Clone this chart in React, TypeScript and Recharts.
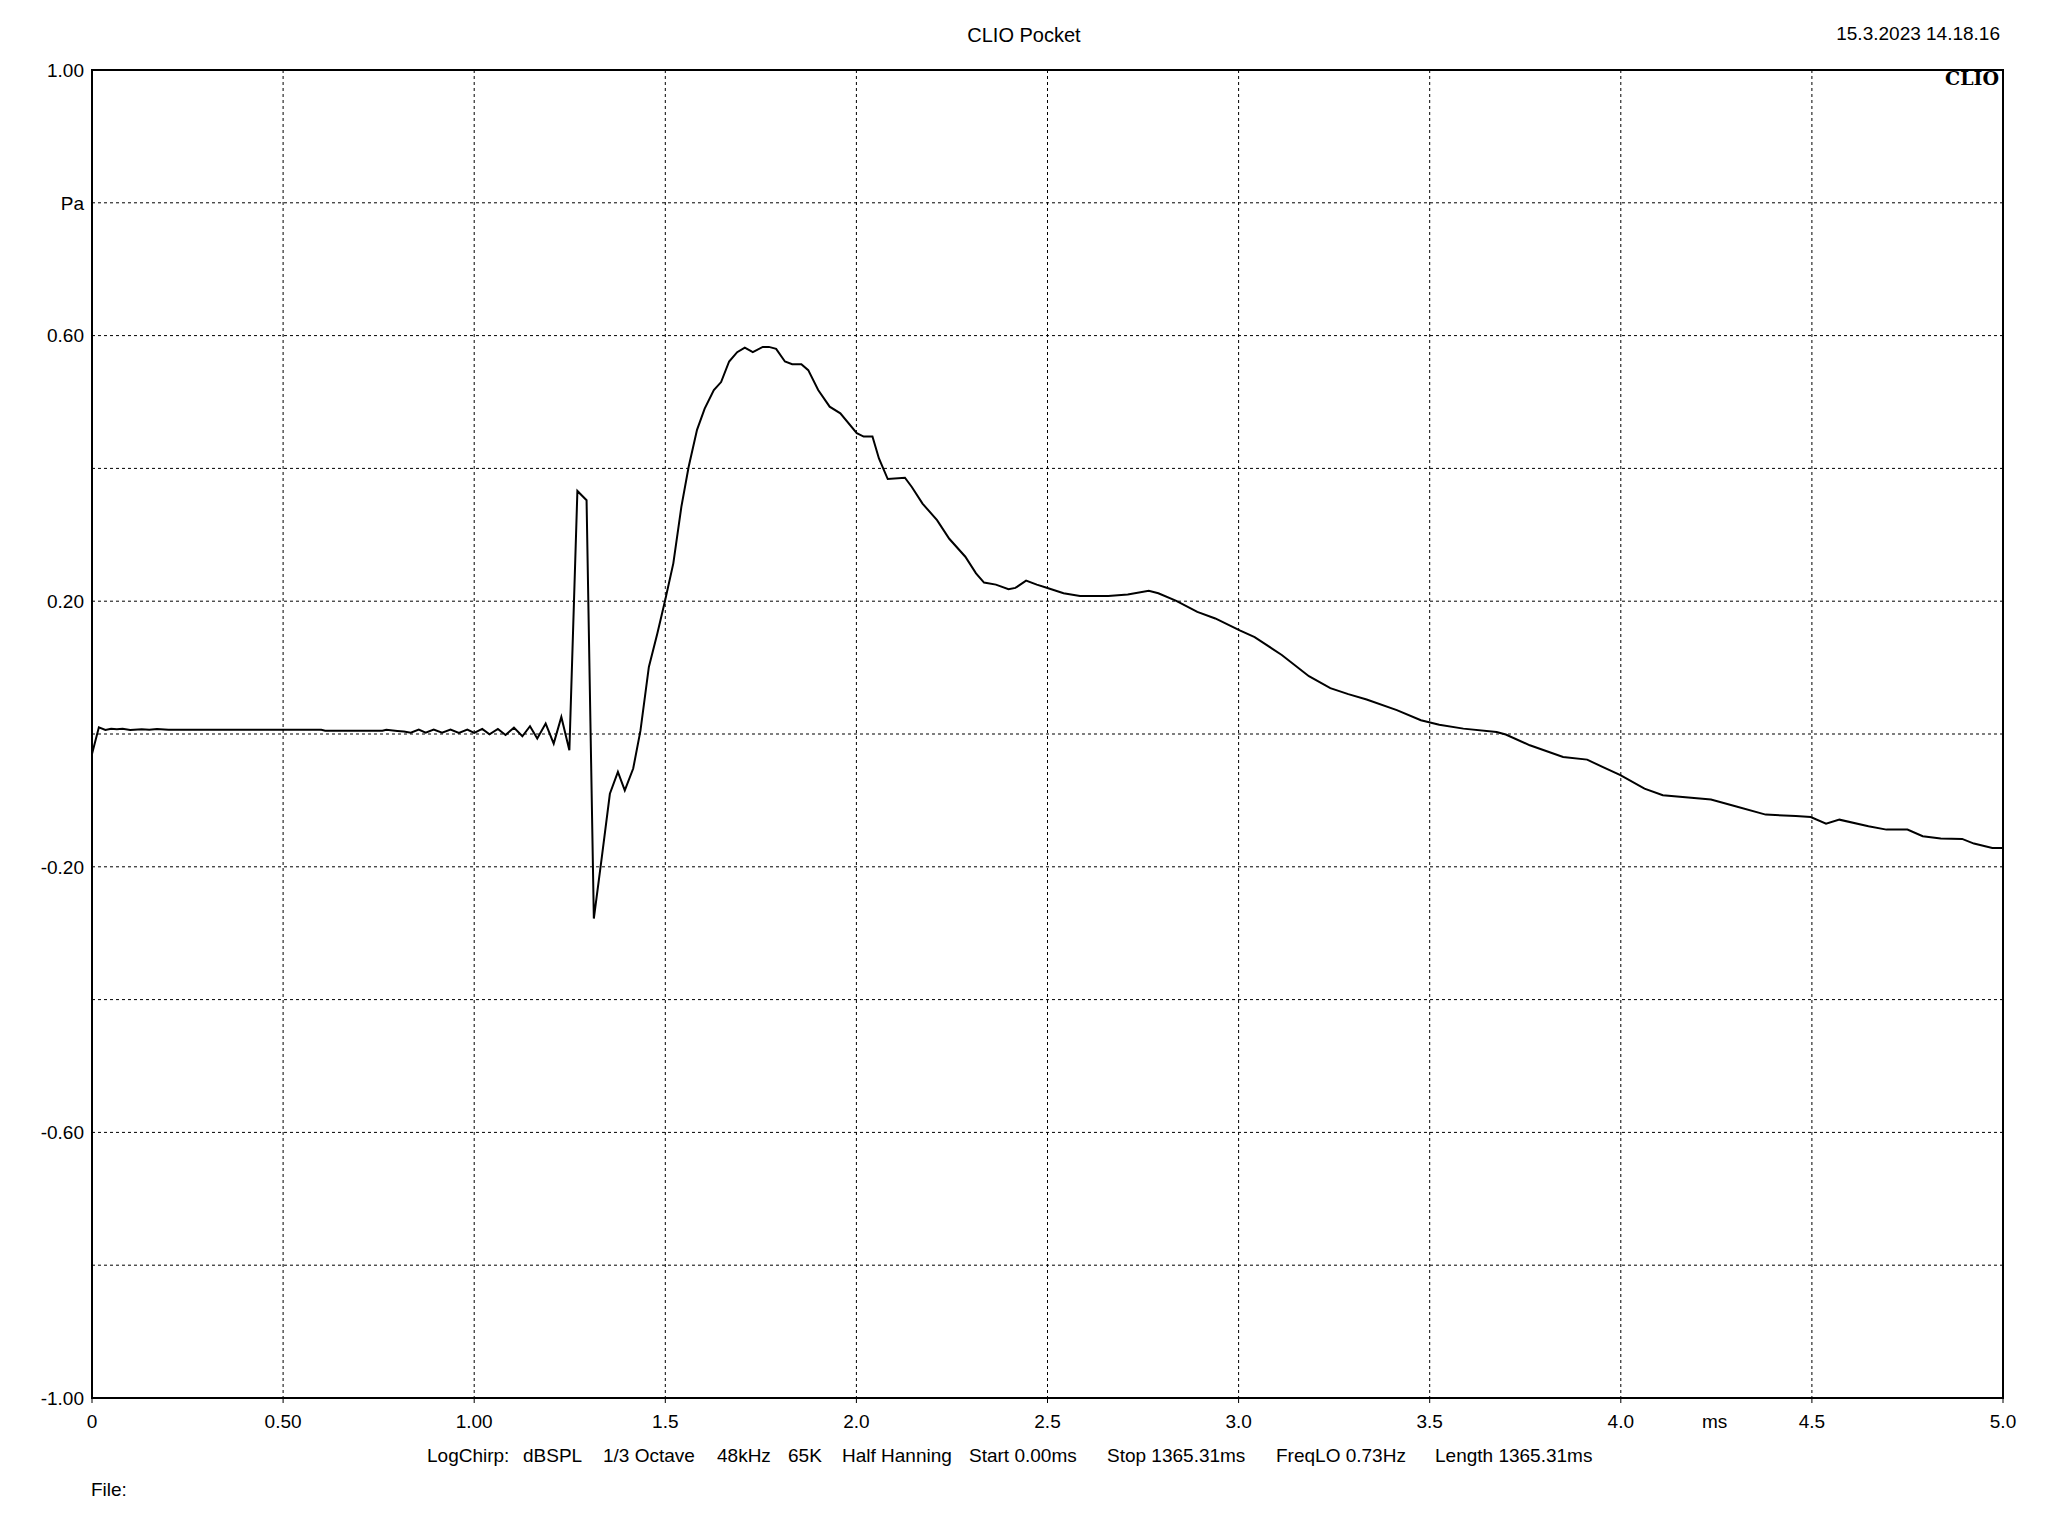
import React from 'react';
import { LineChart, Line, XAxis, YAxis, CartesianGrid, ReferenceArea } from 'recharts';

// time in ms, pressure in Pa
const times = [
  0, 0.018, 0.035, 0.05, 0.065, 0.08, 0.1, 0.13, 0.15, 0.17, 0.2, 0.6, 0.61, 0.76, 0.77,
  0.799, 0.816, 0.834, 0.855, 0.873, 0.894, 0.916, 0.938, 0.96, 0.982, 1.0, 1.021, 1.04,
  1.062, 1.082, 1.104, 1.126, 1.146, 1.165, 1.187, 1.208, 1.228, 1.249, 1.27, 1.294, 1.313,
  1.334, 1.355, 1.376, 1.394, 1.416, 1.435, 1.457, 1.479, 1.499, 1.521, 1.542, 1.561, 1.583,
  1.603, 1.627, 1.646, 1.667, 1.688, 1.708, 1.729, 1.755, 1.771, 1.79, 1.813, 1.832, 1.856,
  1.874, 1.9, 1.93, 1.958, 2.001, 2.019, 2.042, 2.059, 2.082, 2.127, 2.145, 2.173, 2.211,
  2.243, 2.285, 2.313, 2.334, 2.365, 2.398, 2.416, 2.444, 2.472, 2.5, 2.542, 2.585, 2.659,
  2.71, 2.765, 2.79, 2.837, 2.892, 2.939, 3.003, 3.042, 3.113, 3.184, 3.24, 3.287, 3.335,
  3.414, 3.477, 3.525, 3.588, 3.675, 3.699, 3.762, 3.849, 3.912, 3.952, 3.999, 4.062, 4.11,
  4.236, 4.3, 4.379, 4.458, 4.497, 4.537, 4.572, 4.648, 4.695, 4.75, 4.79, 4.837, 4.893,
  4.924, 4.972, 5.0,
];

const pressure = [
  -0.03, 0.01, 0.006, 0.008, 0.007, 0.008, 0.006, 0.007, 0.0065, 0.0075, 0.0065, 0.0065, 0.005, 0.005, 0.0065,
  0.0046, 0.0036, 0.002, 0.0066, 0.0021, 0.0066, 0.0021, 0.0066, 0.0016, 0.0066, 0.0016, 0.0076, -0.0004,
  0.0076, -0.0014, 0.0096, -0.0034, 0.0117, -0.0069, 0.0157, -0.0145, 0.0257, -0.0245, 0.366, 0.352, -0.278,
  -0.185, -0.09, -0.057, -0.085, -0.052, 0.005, 0.101, 0.151, 0.2, 0.257, 0.342, 0.402, 0.458,
  0.49, 0.518, 0.53, 0.561, 0.575, 0.582, 0.575, 0.583, 0.583, 0.58, 0.561, 0.557, 0.557,
  0.548, 0.518, 0.493, 0.483, 0.453, 0.448, 0.448, 0.415, 0.384, 0.386, 0.372, 0.347, 0.322,
  0.294, 0.267, 0.242, 0.228, 0.225, 0.218, 0.22, 0.231, 0.225, 0.22, 0.212, 0.208, 0.208,
  0.21, 0.2156, 0.212, 0.2005, 0.184, 0.174, 0.156, 0.146, 0.119, 0.087, 0.069, 0.06, 0.052,
  0.036, 0.0207, 0.014, 0.0081, 0.003, -0.0008, -0.017, -0.0345, -0.0386, -0.0496, -0.062, -0.0822, -0.0923,
  -0.0988, -0.1089, -0.1214, -0.1234, -0.125, -0.135, -0.129, -0.139, -0.144, -0.144, -0.154, -0.1575, -0.158,
  -0.165, -0.1716, -0.1716,
];

const xTicks = [0, 0.5, 1, 1.5, 2, 2.5, 3, 3.5, 4, 4.5, 5];
const xTickLabels = ['0', '0.50', '1.00', '1.5', '2.0', '2.5', '3.0', '3.5', '4.0', '4.5', '5.0'];
const yTicks = [-1, -0.8, -0.6, -0.4, -0.2, 0, 0.2, 0.4, 0.6, 0.8, 1];
const yTickLabels = ['-1.00', '', '-0.60', '', '-0.20', '', '0.20', '', '0.60', 'Pa', '1.00'];

const infoItems = [
  { text: 'LogChirp:', x: 427 },
  { text: 'dBSPL', x: 523 },
  { text: '1/3 Octave', x: 603 },
  { text: '48kHz', x: 717 },
  { text: '65K', x: 788 },
  { text: 'Half Hanning', x: 842 },
  { text: 'Start 0.00ms', x: 969 },
  { text: 'Stop 1365.31ms', x: 1107 },
  { text: 'FreqLO 0.73Hz', x: 1276 },
  { text: 'Length 1365.31ms', x: 1435 },
];

const data = times.map((t, i) => ({ t, p: pressure[i] }));

const FONT = '"Liberation Sans", Arial, sans-serif';

const labelAt = (ticks: number[], labels: string[]) => (v: number) => {
  const i = ticks.findIndex(k => Math.abs(k - v) < 1e-6);
  return i >= 0 ? labels[i] : '';
};

const txt: React.CSSProperties = {
  position: 'absolute',
  fontFamily: FONT,
  fontSize: 19,
  lineHeight: '19px',
  color: '#000',
  whiteSpace: 'nowrap',
};

const App: React.FC = () => {
  return (
    <div style={{ position: 'absolute', left: 0, top: 0, width: 2048, height: 1536, background: '#fff', fontFamily: FONT }}>
      <LineChart width={2048} height={1536} data={data} margin={{ top: 70, right: 45, bottom: 0, left: 0 }}>
        <CartesianGrid stroke="#000" strokeWidth={1} strokeDasharray="3 3" />
        <XAxis
          type="number"
          dataKey="t"
          domain={[0, 5]}
          ticks={xTicks}
          interval={0}
          height={138}
          tickFormatter={labelAt(xTicks, xTickLabels)}
          axisLine={{ stroke: '#000', strokeWidth: 2 }}
          tickLine={{ stroke: '#000' }}
          tickSize={5}
          tickMargin={12}
          tick={{ fill: '#000', fontSize: 19, fontFamily: FONT }}
        />
        <YAxis
          type="number"
          domain={[-1, 1]}
          ticks={yTicks}
          interval={0}
          width={92}
          tickFormatter={labelAt(yTicks, yTickLabels)}
          axisLine={{ stroke: '#000', strokeWidth: 2 }}
          tickLine={false}
          tickSize={0}
          tickMargin={8}
          tick={{ fill: '#000', fontSize: 19, fontFamily: FONT }}
        />
        <ReferenceArea x1={0} x2={5} y1={-1} y2={1} fill="none" fillOpacity={0} stroke="#000" strokeWidth={2} />
        <Line type="linear" dataKey="p" stroke="#000" strokeWidth={2} dot={false} isAnimationActive={false} />
      </LineChart>

      <div style={{ ...txt, left: 0, width: 2048, top: 25, textAlign: 'center', fontSize: 20, lineHeight: '20px' }}>CLIO Pocket</div>
      <div style={{ ...txt, right: 48, top: 24 }}>15.3.2023 14.18.16</div>
      <div style={{ ...txt, right: 49, top: 69, fontFamily: '"DejaVu Serif", "Liberation Serif", serif', fontWeight: 'bold' }}>CLIO</div>
      <div style={{ ...txt, left: 1702, top: 1412 }}>ms</div>
      {infoItems.map(it => (
        <div key={it.text} style={{ ...txt, left: it.x, top: 1446 }}>{it.text}</div>
      ))}
      <div style={{ ...txt, left: 91, top: 1480 }}>File:</div>
    </div>
  );
};

export default App;
